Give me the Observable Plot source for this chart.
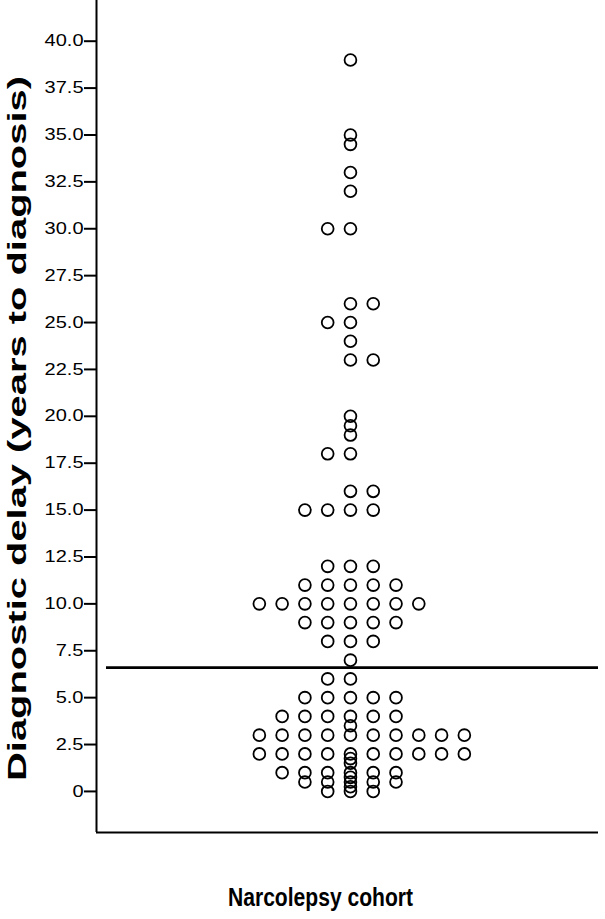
<!DOCTYPE html>
<html>
<head>
<meta charset="utf-8">
<script src="https://cdn.jsdelivr.net/npm/d3@7"></script>
<script src="https://cdn.jsdelivr.net/npm/@observablehq/plot@0.6"></script>
<style>
  html, body { margin: 0; padding: 0; background: #fff; }
  svg { display: block; }
</style>
</head>
<body>
<div id="chart"></div>
<script>
// Distinct diagnostic-delay values (years) in the dot plot
const delayValues = [39, 35, 34.5, 33, 32, 30, 26, 25, 24, 23, 20, 19.5, 19, 18, 16, 15, 12, 11, 10, 9, 8, 7, 6, 5, 4, 3.5, 3, 2, 1.75, 1.5, 1, 0.75, 0.5, 0.25, 0];
// Number of dots stacked left / right of the central dot for each value
const dotsLeft  = [0, 0, 0, 0, 0, 1, 0, 1, 0, 0, 0, 0, 0, 1, 0, 2, 1, 2, 4, 2, 1, 0, 1, 2, 3, 0, 4, 4, 0, 0, 3, 0, 2, 0, 1];
const dotsRight = [0, 0, 0, 0, 0, 0, 1, 0, 0, 1, 0, 0, 0, 0, 1, 1, 1, 2, 3, 2, 1, 0, 0, 2, 2, 0, 5, 5, 0, 0, 2, 0, 2, 0, 1];
// Reference line value
const refLine = 6.6;
// Axis ticks
const yTickValues = [0, 2.5, 5, 7.5, 10, 12.5, 15, 17.5, 20, 22.5, 25, 27.5, 30, 32.5, 35, 37.5, 40];
const yTickLabels = ["0", "2.5", "5.0", "7.5", "10.0", "12.5", "15.0", "17.5", "20.0", "22.5", "25.0", "27.5", "30.0", "32.5", "35.0", "37.5", "40.0"];
const xLabel = "Narcolepsy cohort";
const yLabel = "Diagnostic delay (years to diagnosis)";

// Build point table (slot = stacking column relative to centre)
const points = [];
delayValues.forEach((v, i) => {
  for (let s = -dotsLeft[i]; s <= dotsRight[i]; s++) points.push({delay: v, slot: s});
});

const xDomain = [-11.15, 10.89];
const yDomain = [-2.19, 42.17];

const chart = Plot.plot({
  width: 605,
  height: 919,
  marginTop: 0,
  marginBottom: 87,
  marginLeft: 96,
  marginRight: 7,
  style: {fontFamily: "'Liberation Sans', Arial, sans-serif", fontSize: "16px", color: "#000", background: "#fff"},
  x: {domain: xDomain, axis: null},
  y: {domain: yDomain},
  marks: [
    Plot.axisY(yTickValues, {
      tickSize: 12, tickPadding: 1, strokeWidth: 2,
      tickFormat: (d) => yTickLabels[yTickValues.indexOf(d)],
      label: null, fontSize: 16, fill: "#000"
    }),
    Plot.ruleX([xDomain[0]], {stroke: "#000", strokeWidth: 2}),
    Plot.ruleY([yDomain[0]], {stroke: "#000", strokeWidth: 2}),
    Plot.ruleY([refLine], {stroke: "#000", strokeWidth: 2.7, insetLeft: 10}),
    Plot.dot(points, {x: "slot", y: "delay", r: 5.9, stroke: "#000", strokeWidth: 1.8, fill: "none"}),
    Plot.text([xLabel], {frameAnchor: "bottom", dy: 73, dx: -27, fontSize: 25, fontWeight: "bold", fill: "#000"}),
    Plot.text([yLabel], {frameAnchor: "left", rotate: -90, dx: -79, dy: 12, fontSize: 25, fontWeight: "bold", fill: "#000"})
  ]
});

document.getElementById("chart").appendChild(chart);

// Match the stretched glyph proportions of the original
const svg = d3.select(chart);
svg.selectAll("text").each(function() {
  const t = this.textContent;
  if (t === xLabel) {
    d3.select(this).attr("text-anchor", "start").attr("x", -92.5)
      .attr("textLength", 185).attr("lengthAdjust", "spacingAndGlyphs");
  } else if (t === yLabel) {
    d3.select(this).attr("text-anchor", "start").attr("x", -352.5)
      .attr("textLength", 705).attr("lengthAdjust", "spacingAndGlyphs");
  } else if (yTickLabels.includes(t)) {
    const len = this.getComputedTextLength();
    d3.select(this).attr("textLength", len * 1.25).attr("lengthAdjust", "spacingAndGlyphs");
  }
});
</script>
</body>
</html>
